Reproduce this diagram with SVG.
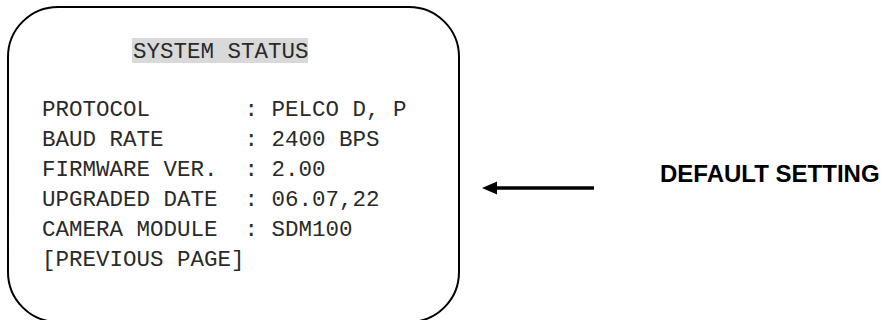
<svg xmlns="http://www.w3.org/2000/svg" width="889" height="320" viewBox="0 0 889 320">
<style>
.mono{font-family:"Liberation Mono","Courier New",monospace;font-size:22.5px;fill:#2a2a2a}
.lbl{font-family:"Liberation Sans",Arial,sans-serif;font-size:24px;font-weight:bold;fill:#000}
</style>
<rect width="889" height="320" fill="#fff"/>
<g id="screen">
<rect x="8" y="7" width="451" height="315" rx="50" ry="50" fill="none" stroke="#000" stroke-width="2"/>
<rect x="132" y="38" width="176" height="25" fill="#d9d9d9"/>
<text class="mono" x="133" y="58">SYSTEM STATUS</text>
<g class="mono">
<text x="42" y="116">PROTOCOL</text><text x="244.5" y="116">:</text><text x="271.5" y="116">PELCO D, P</text>
<text x="42" y="146">BAUD RATE</text><text x="244.5" y="146">:</text><text x="271.5" y="146">2400 BPS</text>
<text x="42" y="176">FIRMWARE VER.</text><text x="244.5" y="176">:</text><text x="271.5" y="176">2.00</text>
<text x="42" y="206">UPGRADED DATE</text><text x="244.5" y="206">:</text><text x="271.5" y="206">06.07,22</text>
<text x="42" y="236">CAMERA MODULE</text><text x="244.5" y="236">:</text><text x="271.5" y="236">SDM100</text>
<text x="42" y="266">[PREVIOUS PAGE]</text>
</g>
</g>
<g id="connectors">
<line x1="594" y1="188" x2="494" y2="188" stroke="#000" stroke-width="3.5"/>
<polygon points="482,188 497,181.5 497,194.5" fill="#000"/>
</g>
<g id="default-setting">
<text class="lbl" x="660" y="182">DEFAULT SETTING</text>
</g>
</svg>
